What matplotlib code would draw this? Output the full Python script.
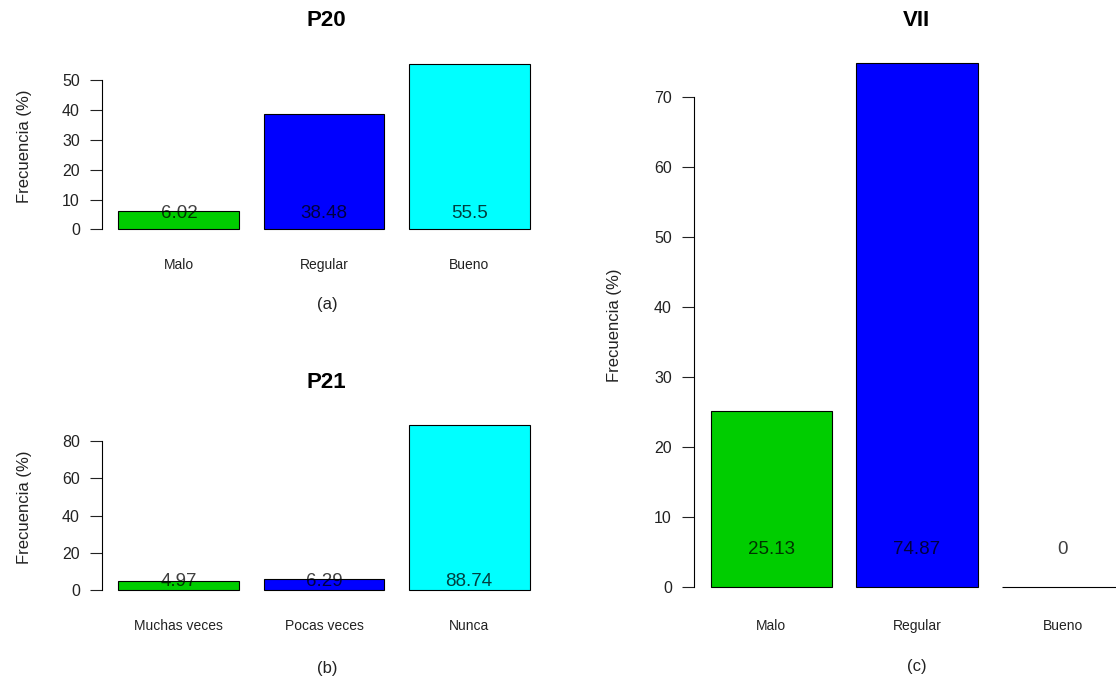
import matplotlib
matplotlib.use("Agg")
import matplotlib.pyplot as plt
import numpy as np

plt.rcParams['font.family'] = ['Liberation Sans', 'DejaVu Sans']

# ---- data ----
p20_categories = ["Malo", "Regular", "Bueno"]
p20_values = [6.02, 38.48, 55.5]
p20_yticks = [0, 10, 20, 30, 40, 50]

p21_categories = ["Muchas veces", "Pocas veces", "Nunca"]
p21_values = [4.97, 6.29, 88.74]
p21_yticks = [0, 20, 40, 60, 80]

vii_categories = ["Malo", "Regular", "Bueno"]
vii_values = [25.13, 74.87, 0]
vii_yticks = [0, 10, 20, 30, 40, 50, 60, 70]

bar_colors = ["#00cd00", "#0000ff", "#00ffff"]

W, H = 1116, 679
fig = plt.figure(figsize=(W / 100, H / 100), dpi=100)
fig.patch.set_facecolor("white")


def px_axes(left, top, right, bottom):
    return fig.add_axes([left / W, 1 - bottom / H, (right - left) / W, (bottom - top) / H])


def draw_panel(ax, cats, vals, yticks, xpad, label_y):
    n = len(vals)
    centers = 0.2 + np.arange(n) * 1.2 + 0.5
    ax.bar(centers, vals, width=1.0, color=bar_colors[:n], edgecolor="black", linewidth=0.8)
    vmax = max(vals)
    ax.set_xlim(0.2 - 0.04 * 3.4, 3.6 + 0.04 * 3.4)
    ax.set_ylim(-0.04 * vmax, vmax * 1.04)
    for c, v in zip(centers, vals):
        ax.text(c, label_y, f"{v:g}", ha="center", va="center", fontsize=13.5,
                color="black", alpha=0.75)
    for s in ["top", "right", "bottom"]:
        ax.spines[s].set_visible(False)
    ax.spines["left"].set_bounds(yticks[0], yticks[-1])
    ax.spines["left"].set_linewidth(0.8)
    ax.set_yticks(yticks)
    ax.set_yticklabels([str(t) for t in yticks])
    ax.tick_params(axis="y", length=8.5, width=0.8, pad=7.5, labelsize=11.5, colors="#222222")
    ax.set_xticks(centers)
    ax.set_xticklabels(cats)
    ax.tick_params(axis="x", length=0, pad=xpad, labelsize=10, colors="#222222")
    ax.set_ylabel("Frecuencia (%)", fontsize=12, color="#222222")
    ax.patch.set_alpha(0)


ax1 = px_axes(102, 57, 546, 236)
draw_panel(ax1, p20_categories, p20_values, p20_yticks, 16, 5.3)
ax1.yaxis.set_label_coords(-0.158, 0.5)

ax2 = px_axes(102, 418, 546, 597)
draw_panel(ax2, p21_categories, p21_values, p21_yticks, 16, 4.6)
ax2.yaxis.set_label_coords(-0.158, 0.5)

ax3 = px_axes(694, 42, 1140, 608)
draw_panel(ax3, vii_categories, vii_values, vii_yticks, 8, 5.3)
ax3.yaxis.set_label_coords(-0.161, 0.5)

fig.text(326 / W, 1 - 21 / H, "P20", ha="center", va="center", fontsize=16, fontweight="bold")
fig.text(326 / W, 1 - 382 / H, "P21", ha="center", va="center", fontsize=16, fontweight="bold")
fig.text(916 / W, 1 - 21 / H, "VII", ha="center", va="center", fontsize=16, fontweight="bold")

fig.text(327 / W, 1 - 305 / H, "(a)", ha="center", va="center", fontsize=12, color="#222222")
fig.text(327 / W, 1 - 668 / H, "(b)", ha="center", va="center", fontsize=12, color="#222222")
fig.text(917 / W, 1 - 667 / H, "(c)", ha="center", va="center", fontsize=12, color="#222222")

fig.savefig("out.png", dpi=100)
